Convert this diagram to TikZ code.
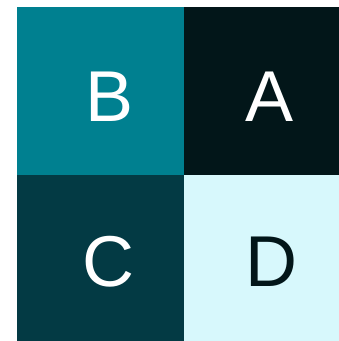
\documentclass[tikz,border=0pt]{standalone}
\usepackage{fontspec}
\setmainfont{Liberation Sans}
\usetikzlibrary{positioning}
\definecolor{tealmid}{RGB}{0,128,144}
\definecolor{tealdeep}{RGB}{2,22,25}
\definecolor{tealdark}{RGB}{3,58,68}
\definecolor{tealpale}{RGB}{215,248,252}

\begin{document}
\begin{tikzpicture}[
  x=1pt,y=1pt,
  lbl/.style={inner sep=0pt,anchor=base,font=\fontsize{72}{80}\selectfont}]
  \useasboundingbox(0,0)rectangle(339,341);
  \fill[tealmid](17,166)rectangle(184,334);
  \fill[tealdeep](184,166)rectangle(339,334);
  \fill[tealdark](17,0)rectangle(184,166);
  \fill[tealpale](184,0)rectangle(339,166);
  \node[lbl,text=white](B) at(110,219){B};
  \node[lbl,text=white](A) at(269.5,219){A};
  \node[lbl,text=white](C) at(108.5,55){C};
  \node[lbl,text=tealdeep](D) at(271.5,55){D};
\end{tikzpicture}
\end{document}
